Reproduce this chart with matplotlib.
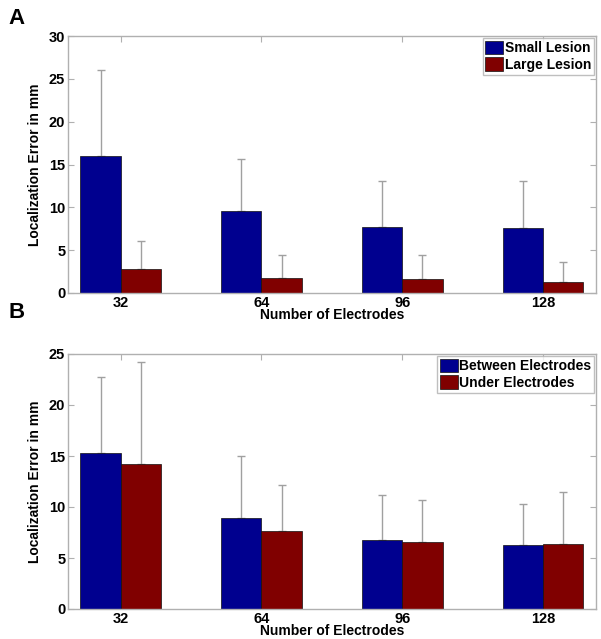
import matplotlib
matplotlib.use("Agg")
import matplotlib.pyplot as plt
import numpy as np

plt.rcParams['font.family'] = ['Liberation Sans', 'DejaVu Sans']
plt.rcParams['font.weight'] = 'bold'

categories = ["32", "64", "96", "128"]

small_lesion = [16.0, 9.55, 7.75, 7.55]
small_lesion_err = [10.0, 6.15, 5.3, 5.55]
large_lesion = [2.8, 1.7, 1.65, 1.25]
large_lesion_err = [3.3, 2.7, 2.75, 2.35]

between_el = [15.3, 8.9, 6.75, 6.25]
between_el_err = [7.4, 6.1, 4.4, 4.05]
under_el = [14.2, 7.6, 6.55, 6.35]
under_el_err = [10.05, 4.6, 4.1, 5.15]

blue = "#00008F"
red = "#800000"
errc = "#a0a0a0"
gridc = "#b0b0b0"

fig = plt.figure(figsize=(6.01, 6.39), dpi=100)
W, H = 601, 639

def make_ax(y_top, y_bot):
    return fig.add_axes([68 / W, 1 - y_bot / H, (596 - 68) / W, (y_bot - y_top) / H])

def draw(ax, s1, e1, s2, e2, ymax, labels):
    x = np.arange(1, len(categories) + 1)
    w = 0.286
    ax.bar(x - w / 2, s1, w, color=blue, edgecolor='#101010', linewidth=0.5, label=labels[0], zorder=2)
    ax.bar(x + w / 2, s2, w, color=red, edgecolor='#101010', linewidth=0.5, label=labels[1], zorder=2)
    ax.errorbar(x - w / 2, s1, yerr=[np.zeros(len(s1)), e1], fmt='none', ecolor=errc,
                elinewidth=1, capsize=3, capthick=1, zorder=1)
    ax.errorbar(x + w / 2, s2, yerr=[np.zeros(len(s2)), e2], fmt='none', ecolor=errc,
                elinewidth=1, capsize=3, capthick=1, zorder=1)
    ax.set_xlim(0.626, 4.376)
    ax.set_ylim(0, ymax)
    ax.set_xticks(x)
    ax.set_xticklabels(categories)
    ax.set_yticks(np.arange(0, ymax + 1, 5))
    for sp in ax.spines.values():
        sp.set_color(gridc)
        sp.set_linewidth(1)
    ax.tick_params(direction='in', top=True, right=True, color=gridc, length=4,
                   labelsize=10.5, pad=2)
    for t in ax.get_xticklabels() + ax.get_yticklabels():
        t.set_fontweight('bold')
    ax.set_ylabel("Localization Error in mm", fontsize=10, fontweight='bold', labelpad=5)
    ax.set_xlabel("Number of Electrodes", fontsize=10, fontweight='bold', labelpad=-1.5)
    leg = ax.legend(loc='upper right', fontsize=10, frameon=True, fancybox=False,
                    borderaxespad=0.15, handlelength=1.3, handleheight=1.1,
                    handletextpad=0.1, borderpad=0.2, labelspacing=0.15)
    leg.get_frame().set_edgecolor(gridc)
    leg.get_frame().set_linewidth(1)
    for t in leg.get_texts():
        t.set_fontweight('bold')

axA = make_ax(36, 293)
draw(axA, small_lesion, small_lesion_err, large_lesion, large_lesion_err, 30,
     ["Small Lesion", "Large Lesion"])
axB = make_ax(354, 609)
draw(axB, between_el, between_el_err, under_el, under_el_err, 25,
     ["Between Electrodes", "Under Electrodes"])

fig.text(8 / W, 1 - 19 / H, "A", fontsize=16, fontweight='bold', va='center', ha='left')
fig.text(8 / W, 1 - 313 / H, "B", fontsize=16, fontweight='bold', va='center', ha='left')

fig.savefig("out.png", dpi=100)
